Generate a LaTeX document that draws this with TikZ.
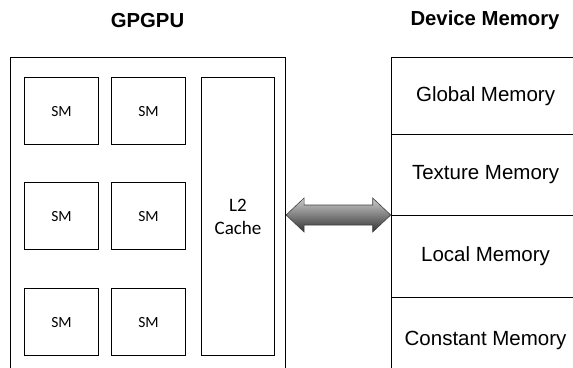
\documentclass[tikz,border=0pt]{standalone}
\usepackage{fontspec}
\setmainfont{Liberation Sans}
\newfontfamily\calib{Carlito}
\usetikzlibrary{calc}
\begin{document}
\begin{tikzpicture}[x=1pt,y=-1pt,
  box/.style={draw=black, line width=1.1pt, inner sep=0pt, rectangle},
  smbox/.style={box, minimum width=74pt, minimum height=67pt, anchor=north west, font=\calib\fontsize{15.5}{18}\selectfont},
  memcell/.style={box, minimum width=188.6pt, anchor=north west, font=\fontsize{20.5}{24}\selectfont},
  ttl/.style={font=\bfseries\fontsize{20.3}{24}\selectfont},
  bigarrow/.style={draw=black!75, line width=0.6pt, line join=miter, top color=gray!40, bottom color=black!80}]
\useasboundingbox (0,0) rectangle (573,367);
\clip (0,0) rectangle (573,367);
\node[ttl] (tgpu) at (147.5,21) {GPGPU};
\node[ttl] (tmem) at (485,20) {Device Memory};
\node[box, minimum width=275pt, minimum height=325pt, anchor=north west] (gpu) at (10,57) {};
\node[smbox] (sm11) at (24,77) {SM};
\node[smbox] (sm12) at (111,77) {SM};
\node[smbox] (sm21) at (24,182) {SM};
\node[smbox] (sm22) at (111,182) {SM};
\node[smbox] (sm31) at (24,288) {SM};
\node[smbox] (sm32) at (111,288) {SM};
\node[box, minimum width=73pt, minimum height=278pt, anchor=north west, align=center, font=\calib\fontsize{19}{23}\selectfont] (l2) at (201,77) {L2\\Cache};
\node[memcell, minimum height=77pt] (mglobal) at (390.7,57) {Global Memory};
\node[memcell, minimum height=81pt] (mtexture) at (390.7,134) {Texture Memory};
\node[memcell, minimum height=82pt] (mlocal) at (390.7,215) {Local Memory};
\node[memcell, minimum height=86pt] (mconst) at (390.7,297) {Constant Memory};
\coordinate (aL) at (gpu.east |- mlocal.north west);
\coordinate (aR) at (mlocal.north west);
\draw[bigarrow] (aL) -- ($(aL)+(18,-17)$) -- ($(aL)+(18,-10)$) -- ($(aR)+(-18,-10)$) -- ($(aR)+(-18,-17)$) -- (aR)
  -- ($(aR)+(-18,17)$) -- ($(aR)+(-18,10)$) -- ($(aL)+(18,10)$) -- ($(aL)+(18,17)$) -- cycle;
\end{tikzpicture}
\end{document}
